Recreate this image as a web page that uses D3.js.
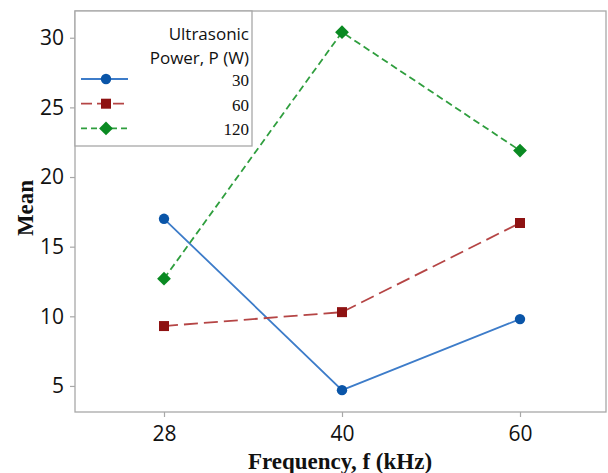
<!DOCTYPE html>
<html lang="en">
<head>
<meta charset="UTF-8">
<title>Interaction plot</title>
<script src="https://d3js.org/d3.v7.min.js"></script>
<style>
  body { margin: 0; background: #fff; }
</style>
</head>
<body>
<svg id="chart" width="608" height="473"></svg>
<script>
  // data
  const freqs = ["28", "40", "60"];
  const powers = ["30", "60", "120"];
  const mean30 = [17.0, 4.7, 9.8];
  const mean60 = [9.3, 10.3, 16.7];
  const mean120 = [12.7, 30.4, 21.9];
  const yTicks = [5, 10, 15, 20, 25, 30];

  // square turned 45deg, d3's own diamond is too tall
  const rotSquare = {
    draw(ctx, size) {
      const r = Math.sqrt(size / 2);
      ctx.moveTo(0, -r); ctx.lineTo(r, 0); ctx.lineTo(0, r); ctx.lineTo(-r, 0); ctx.closePath();
    }
  };

  const series = [
    { name: powers[0], values: mean30, line: "#3d7cc9", fill: "#0a55a8", dash: null, legDash: null, shape: d3.symbolCircle, size: 85 },
    { name: powers[1], values: mean60, line: "#b54545", fill: "#8e1212", dash: "14,6", legDash: "11,5", shape: d3.symbolSquare, size: 100 },
    { name: powers[2], values: mean120, line: "#2f9e3e", fill: "#0a8a22", dash: "7,4", legDash: "6,4", shape: rotSquare, size: 95 }
  ];

  const svg = d3.select("#chart");
  const margin = { top: 11, right: 2, bottom: 61, left: 75 };
  const width = 608 - margin.left - margin.right;
  const height = 473 - margin.top - margin.bottom;

  const g = svg.append("g")
    .attr("transform", "translate(" + margin.left + "," + margin.top + ")");

  const x = d3.scalePoint().domain(freqs).range([89, 445]);
  const y = d3.scaleLinear().domain([3.13, 31.92]).range([height, 0]);

  // frame
  g.append("rect")
    .attr("width", width).attr("height", height)
    .attr("fill", "none").attr("stroke", "#a8a8a8").attr("stroke-width", 1.3);

  // axes
  const xAxis = g.append("g")
    .attr("transform", "translate(0," + height + ")")
    .call(d3.axisBottom(x).tickSize(5).tickPadding(9));
  const yAxis = g.append("g")
    .call(d3.axisLeft(y).tickValues(yTicks).tickSize(5).tickPadding(6));

  [xAxis, yAxis].forEach(a => {
    a.select(".domain").remove();
    a.selectAll("line").attr("stroke", "#a8a8a8").attr("stroke-width", 1.2);
    a.selectAll("text")
      .attr("fill", "#111")
      .style("font-family", "'Open Sans', 'Noto Sans', sans-serif")
      .style("font-size", "21px");
  });

  // lines and markers
  const line = d3.line()
    .x((d, i) => x(freqs[i]))
    .y(d => y(d));

  series.forEach(s => {
    g.append("path")
      .datum(s.values)
      .attr("d", line)
      .attr("fill", "none")
      .attr("stroke", s.line)
      .attr("stroke-width", 1.8)
      .attr("stroke-dasharray", s.dash);

    g.selectAll(null)
      .data(s.values)
      .join("path")
      .attr("transform", (d, i) => "translate(" + x(freqs[i]) + "," + y(d) + ")")
      .attr("d", d3.symbol().type(s.shape).size(s.size))
      .attr("fill", s.fill);
  });

  // legend box
  const lg = svg.append("g").attr("transform", "translate(75,11)");
  lg.append("rect")
    .attr("width", 177).attr("height", 135)
    .attr("fill", "#fff").attr("stroke", "#a8a8a8").attr("stroke-width", 1.3);

  lg.selectAll("text.title")
    .data(["Ultrasonic", "Power, P (W)"])
    .join("text")
    .attr("class", "title")
    .attr("x", 174)
    .attr("y", (d, i) => 29 + i * 24)
    .attr("text-anchor", "end")
    .attr("fill", "#111")
    .style("font-family", "'Open Sans', 'Noto Sans', sans-serif")
    .style("font-size", "17px")
    .text(d => d);

  series.forEach((s, i) => {
    const cy = 68 + i * 24.7;
    lg.append("line")
      .attr("x1", 6).attr("x2", 53)
      .attr("y1", cy).attr("y2", cy)
      .attr("stroke", s.line).attr("stroke-width", 1.8)
      .attr("stroke-dasharray", s.legDash);
    lg.append("path")
      .attr("transform", "translate(31," + cy + ")")
      .attr("d", d3.symbol().type(s.shape).size(s.size))
      .attr("fill", s.fill);
    lg.append("text")
      .attr("x", 174).attr("y", cy + 7)
      .attr("text-anchor", "end")
      .attr("fill", "#111")
      .style("font-family", "'Liberation Serif', 'DejaVu Serif', serif")
      .style("font-size", "17px")
      .text(s.name);
  });

  // axis titles
  svg.append("text")
    .attr("x", 340).attr("y", 469)
    .attr("text-anchor", "middle")
    .attr("fill", "#111")
    .style("font-family", "'Liberation Serif', 'DejaVu Serif', serif")
    .style("font-weight", "bold")
    .style("font-size", "23px")
    .text("Frequency, f (kHz)");

  svg.append("text")
    .attr("transform", "translate(33,208) rotate(-90)")
    .attr("text-anchor", "middle")
    .attr("fill", "#111")
    .style("font-family", "'Liberation Serif', 'DejaVu Serif', serif")
    .style("font-weight", "bold")
    .style("font-size", "23px")
    .text("Mean");
</script>
</body>
</html>
